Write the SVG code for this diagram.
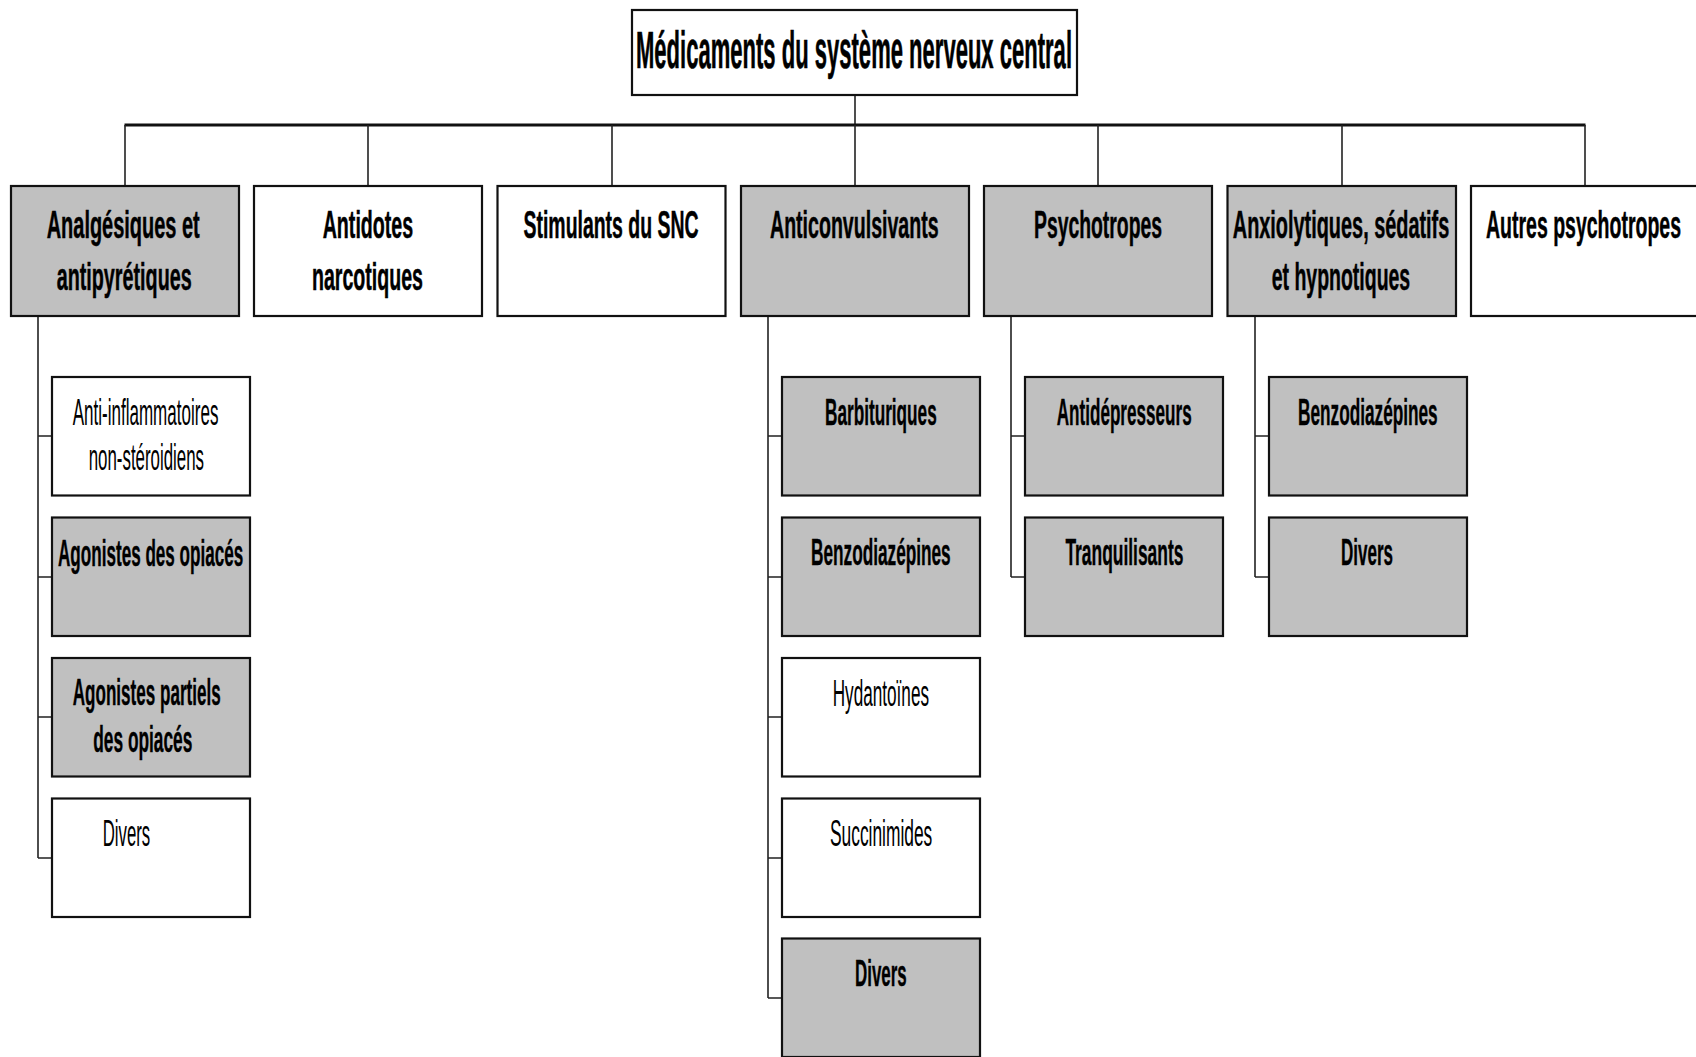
<svg xmlns="http://www.w3.org/2000/svg" width="1696" height="1057" viewBox="0 0 1696 1057">
<style>
.box{stroke:#111;stroke-width:2.2;}
.g{fill:#c0c0c0;}
.w{fill:#ffffff;}
text{font-family:"Liberation Sans Narrow","Liberation Sans",Arial,sans-serif;fill:#000;}
.t0{font-size:51px;font-weight:bold;stroke:#000;stroke-width:0.6;}
.t1{font-size:38px;font-weight:bold;stroke:#000;stroke-width:0.5;}
.t2{font-size:37px;}
.b{font-weight:bold;stroke:#000;stroke-width:0.4;}
.bar{stroke:#111;stroke-width:2.8;fill:none;}
.ln{stroke:#222;stroke-width:1.6;fill:none;}
</style>
<rect width="1696" height="1057" fill="#fff"/>
<g id="connectors">
<line class="ln" x1="855" y1="95" x2="855" y2="125"/>
<line class="bar" x1="124.5" y1="125" x2="1585.5" y2="125"/>
<line class="ln" x1="125" y1="125" x2="125" y2="186"/>
<line class="ln" x1="368" y1="125" x2="368" y2="186"/>
<line class="ln" x1="612" y1="125" x2="612" y2="186"/>
<line class="ln" x1="855" y1="125" x2="855" y2="186"/>
<line class="ln" x1="1098" y1="125" x2="1098" y2="186"/>
<line class="ln" x1="1342" y1="125" x2="1342" y2="186"/>
<line class="ln" x1="1585" y1="125" x2="1585" y2="186"/>
<path class="ln" d="M38 316V858M38 436H52M38 577H52M38 717H52M38 858H52"/>
<path class="ln" d="M768 316V998M768 436H782M768 577H782M768 717H782M768 858H782M768 998H782"/>
<path class="ln" d="M1011 316V577M1011 436H1025M1011 577H1025"/>
<path class="ln" d="M1255 316V577M1255 436H1269M1255 577H1269"/>
</g>
<g id="root">
<rect class="box w" x="632" y="10" width="445" height="85"/>
<text class="t0" x="636" y="68" textLength="436" lengthAdjust="spacingAndGlyphs">Médicaments du système nerveux central</text>
</g>
<g id="n-analgesiques">
<rect class="box g" x="11" y="186" width="228" height="130"/>
<text class="t1" x="46.7" y="238" textLength="153" lengthAdjust="spacingAndGlyphs">Analgésiques et</text>
<text class="t1" x="56.7" y="290" textLength="135" lengthAdjust="spacingAndGlyphs">antipyrétiques</text>
</g>
<g id="n-antidotes">
<rect class="box w" x="254" y="186" width="228" height="130"/>
<text class="t1" x="322.7" y="238" textLength="90.5" lengthAdjust="spacingAndGlyphs">Antidotes</text>
<text class="t1" x="312" y="290" textLength="111" lengthAdjust="spacingAndGlyphs">narcotiques</text>
</g>
<g id="n-stimulants">
<rect class="box w" x="497.5" y="186" width="228" height="130"/>
<text class="t1" x="523.5" y="238" textLength="175" lengthAdjust="spacingAndGlyphs">Stimulants du SNC</text>
</g>
<g id="n-anticonvulsivants">
<rect class="box g" x="741" y="186" width="228" height="130"/>
<text class="t1" x="770" y="238" textLength="168.6" lengthAdjust="spacingAndGlyphs">Anticonvulsivants</text>
</g>
<g id="n-psychotropes">
<rect class="box g" x="984" y="186" width="228" height="130"/>
<text class="t1" x="1034" y="238" textLength="128" lengthAdjust="spacingAndGlyphs">Psychotropes</text>
</g>
<g id="n-anxiolytiques">
<rect class="box g" x="1227.5" y="186" width="228.5" height="130"/>
<text class="t1" x="1232.8" y="238" textLength="216.5" lengthAdjust="spacingAndGlyphs">Anxiolytiques, sédatifs</text>
<text class="t1" x="1271.7" y="290" textLength="138.5" lengthAdjust="spacingAndGlyphs">et hypnotiques</text>
</g>
<g id="n-autres">
<rect class="box w" x="1471" y="186" width="230" height="130"/>
<text class="t1" x="1486" y="238" textLength="195" lengthAdjust="spacingAndGlyphs">Autres psychotropes</text>
</g>
<g id="n-ains">
<rect class="box w" x="52" y="377" width="198" height="118.5"/>
<text class="t2" x="72.7" y="425" textLength="145.7" lengthAdjust="spacingAndGlyphs">Anti-inflammatoires</text>
<text class="t2" x="88.7" y="470" textLength="115.3" lengthAdjust="spacingAndGlyphs">non-stéroidiens</text>
</g>
<g id="n-agonistes">
<rect class="box g" x="52" y="517.5" width="198" height="118.5"/>
<text class="t2 b" x="58" y="566" textLength="185.3" lengthAdjust="spacingAndGlyphs">Agonistes des opiacés</text>
</g>
<g id="n-agonistes-partiels">
<rect class="box g" x="52" y="658" width="198" height="118.5"/>
<text class="t2 b" x="72.7" y="705" textLength="148" lengthAdjust="spacingAndGlyphs">Agonistes partiels</text>
<text class="t2 b" x="93.3" y="752" textLength="99" lengthAdjust="spacingAndGlyphs">des opiacés</text>
</g>
<g id="n-divers-analg">
<rect class="box w" x="52" y="798.5" width="198" height="118.5"/>
<text class="t2" x="102.7" y="846" textLength="47.5" lengthAdjust="spacingAndGlyphs">Divers</text>
</g>
<g id="n-barbituriques">
<rect class="box g" x="782" y="377" width="198" height="118.5"/>
<text class="t2 b" x="825" y="424.5" textLength="111.7" lengthAdjust="spacingAndGlyphs">Barbituriques</text>
</g>
<g id="n-benzo-anticonv">
<rect class="box g" x="782" y="517.5" width="198" height="118.5"/>
<text class="t2 b" x="811" y="565" textLength="139.7" lengthAdjust="spacingAndGlyphs">Benzodiazépines</text>
</g>
<g id="n-hydantoines">
<rect class="box w" x="782" y="658" width="198" height="118.5"/>
<text class="t2" x="832.7" y="705.5" textLength="96.3" lengthAdjust="spacingAndGlyphs">Hydantoïnes</text>
</g>
<g id="n-succinimides">
<rect class="box w" x="782" y="798.5" width="198" height="118.5"/>
<text class="t2" x="830" y="846" textLength="102.3" lengthAdjust="spacingAndGlyphs">Succinimides</text>
</g>
<g id="n-divers-anticonv">
<rect class="box g" x="782" y="938.5" width="198" height="118.5"/>
<text class="t2 b" x="855" y="986" textLength="51.7" lengthAdjust="spacingAndGlyphs">Divers</text>
</g>
<g id="n-antidepresseurs">
<rect class="box g" x="1025" y="377" width="198" height="118.5"/>
<text class="t2 b" x="1056.7" y="424.5" textLength="135" lengthAdjust="spacingAndGlyphs">Antidépresseurs</text>
</g>
<g id="n-tranquilisants">
<rect class="box g" x="1025" y="517.5" width="198" height="118.5"/>
<text class="t2 b" x="1065.4" y="565" textLength="118" lengthAdjust="spacingAndGlyphs">Tranquilisants</text>
</g>
<g id="n-benzo-anxio">
<rect class="box g" x="1269" y="377" width="198" height="118.5"/>
<text class="t2 b" x="1298" y="424.5" textLength="139.7" lengthAdjust="spacingAndGlyphs">Benzodiazépines</text>
</g>
<g id="n-divers-anxio">
<rect class="box g" x="1269" y="517.5" width="198" height="118.5"/>
<text class="t2 b" x="1341" y="565" textLength="52" lengthAdjust="spacingAndGlyphs">Divers</text>
</g>
</svg>
